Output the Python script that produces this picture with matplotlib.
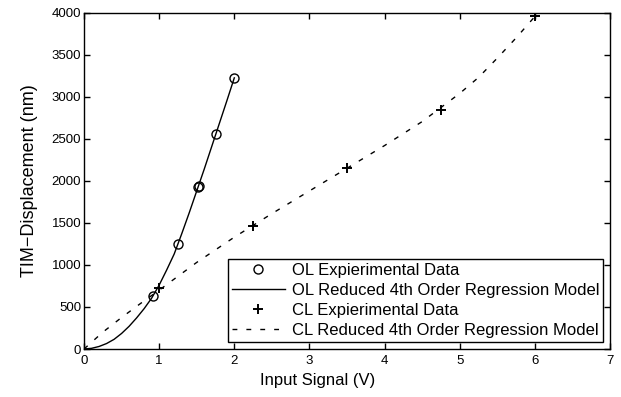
import matplotlib
matplotlib.use("Agg")
import matplotlib.pyplot as plt

plt.rcParams["font.family"] = ["Liberation Sans", "DejaVu Sans"]

# ---- data ----
ol_x = [0.92, 1.25, 1.515, 1.525, 1.75, 2.00]
ol_y = [625, 1250, 1925, 1937, 2560, 3225]

cl_x = [1.00, 2.25, 3.50, 4.75, 6.00]
cl_y = [722, 1464, 2158, 2845, 3955]

# regression model curves
ol_fit_x = [0.0, 0.1, 0.2, 0.3, 0.4, 0.5, 0.6, 0.7, 0.8, 0.9, 1.0,
            1.1, 1.2, 1.3, 1.4, 1.5, 1.6, 1.7, 1.8, 1.9, 2.0]
ol_fit_y = [0, 8, 30, 65, 115, 185, 270, 370, 480, 605, 760,
            940, 1130, 1370, 1620, 1880, 2140, 2410, 2680, 2950, 3225]

cl_fit_x = [0.0, 0.25, 0.5, 0.75, 1.0, 1.25, 1.5, 1.75, 2.0, 2.25, 2.5,
            3.0, 3.5, 4.0, 4.5, 5.0, 5.25, 5.5, 5.75, 6.0]
cl_fit_y = [0, 200, 375, 540, 700, 865, 1030, 1180, 1330, 1470, 1610,
            1880, 2150, 2420, 2705, 3040, 3230, 3460, 3700, 3955]

labels = ["OL Expierimental Data",
          "OL Reduced 4th Order Regression Model",
          "CL Expierimental Data",
          "CL Reduced 4th Order Regression Model"]

fig = plt.figure(figsize=(6.21, 3.97), dpi=100)
ax = fig.add_axes([0.1353, 0.1209, 0.847, 0.8471])

ax.plot(ol_x, ol_y, "o", mfc="none", mec="k", ms=6.5, mew=1.0, label=labels[0])
ax.plot(ol_fit_x, ol_fit_y, "k-", lw=1.0, label=labels[1])
ax.plot(cl_x, cl_y, "+", color="k", ms=7, mew=1.4, label=labels[2])
ax.plot(cl_fit_x, cl_fit_y, color="k", ls=(0, (3.5, 6.5)), lw=1.0, label=labels[3])

ax.set_xlim(0, 7)
ax.set_ylim(0, 4000)
ax.set_xticks(range(0, 8))
ax.set_yticks(range(0, 4001, 500))
ax.tick_params(direction="in", length=4, width=1, top=True, right=True,
               labelsize=9.5, pad=2)
ax.tick_params(axis="x", pad=4)
for s in ax.spines.values():
    s.set_linewidth(1.0)

ax.set_xlabel("Input Signal (V)", fontsize=12)
ax.xaxis.set_label_coords(0.444, -0.072)
ax.set_ylabel("TIM\u2212Displacement (nm)", fontsize=13, labelpad=10)

leg = ax.legend(loc="lower right", fontsize=12, frameon=True, fancybox=False,
                edgecolor="k", framealpha=1, handlelength=3.2,
                labelspacing=0.31, borderpad=0.25, handletextpad=0.4,
                borderaxespad=0.4)
leg.get_frame().set_linewidth(1.0)

fig.savefig("out.png", dpi=100)
